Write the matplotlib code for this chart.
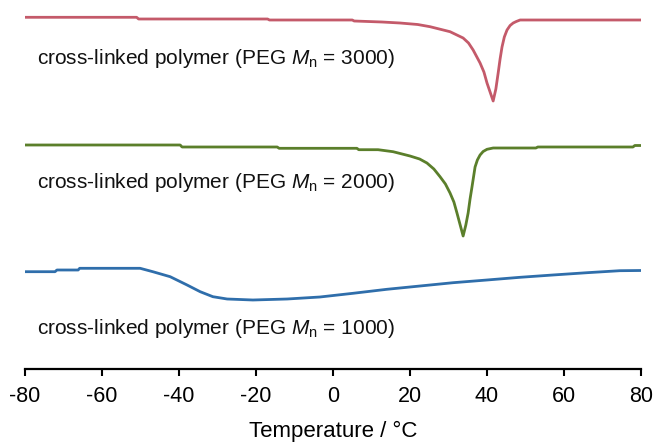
import matplotlib
matplotlib.use('Agg')
import matplotlib.pyplot as plt

plt.rcParams['font.family'] = ['Liberation Sans', 'DejaVu Sans']
plt.rcParams['mathtext.fontset'] = 'custom'
plt.rcParams['mathtext.rm'] = 'Liberation Sans'
plt.rcParams['mathtext.it'] = 'Liberation Sans:italic'
plt.rcParams['axes.unicode_minus'] = False

# DSC traces, stacked with offsets (heat flow in a.u.)
t_3000 = [-80, -51, -50.5, -17, -16.5, 5, 5.5, 12.7, 17.4, 22, 25.2, 30.4, 33.8, 35.2, 36.4,
          38.2, 39.2, 40.0, 41.6, 42.3, 42.9, 43.4, 43.9, 44.5, 45.2, 46.0, 46.8, 47.6, 48.6, 80]
h_3000 = [35.17, 35.17, 35.0, 35.0, 34.9, 34.9, 34.8, 34.7, 34.6, 34.45, 34.23, 33.73, 33.1, 32.6, 31.9,
          30.6, 29.7, 28.6, 26.8, 28.0, 29.6, 31.0, 32.2, 33.2, 33.9, 34.35, 34.6, 34.75, 34.9, 34.9]

t_2000 = [-80, -39.7, -39.2, -14.5, -14.0, 6.2, 6.7, 11.7, 15.6, 20.0, 22.5, 24.4, 26.2, 27.8, 29.2, 30.4,
          31.4, 32.2, 33.8, 34.5, 35.1, 35.6, 36.1, 36.9, 37.5, 38.2, 39.0, 40.0, 41.6, 52.7, 53.2,
          77.9, 78.4, 80]
h_2000 = [22.4, 22.4, 22.2, 22.2, 22.07, 22.07, 21.93, 21.93, 21.73, 21.3, 21.0, 20.6, 20.0, 19.23, 18.5, 17.6,
          16.7, 15.6, 13.3, 14.4, 15.6, 17.0, 18.2, 20.2, 20.9, 21.4, 21.75, 21.97, 22.1, 22.1, 22.2,
          22.2, 22.35, 22.35]

t_1000 = [-80, -72.2, -71.7, -66.2, -65.8, -50.1, -46.8, -42.3, -37.9, -34.5, -31.2, -27.5,
          -20.8, -11.9, -3.4, 5.2, 14.0, 22.6, 31.2, 40.0, 48.6, 57.1, 66.0, 74.5, 80]
h_1000 = [9.73, 9.73, 9.9, 9.9, 10.07, 10.07, 9.73, 9.23, 8.4, 7.73, 7.23, 7.0,
          6.9, 7.0, 7.2, 7.57, 7.97, 8.3, 8.63, 8.9, 9.17, 9.4, 9.63, 9.83, 9.85]

labels = [r'cross-linked polymer (PEG $M_\mathrm{n}$ = 3000)',
          r'cross-linked polymer (PEG $M_\mathrm{n}$ = 2000)',
          r'cross-linked polymer (PEG $M_\mathrm{n}$ = 1000)']
label_y = [31.1, 18.7, 4.1]
colors = ['#c45a6a', '#5b7f2b', '#2f6eab']

fig = plt.figure(figsize=(6.57, 4.43), dpi=100)
ax = fig.add_axes([25 / 657, 74 / 443, 616 / 657, 369 / 443])

for t, h, c in zip([t_3000, t_2000, t_1000], [h_3000, h_2000, h_1000], colors):
    ax.plot(t, h, color=c, lw=2.0, solid_joinstyle='round')

for lab, y in zip(labels, label_y):
    ax.text(-76.9, y, lab, fontsize=15, va='center', ha='left', color='#111111')

ax.set_xlim(-80, 80)
ax.set_ylim(0, 36.9)
ax.set_xticks(range(-80, 81, 20))
ax.set_yticks([])
for s in ['top', 'left', 'right']:
    ax.spines[s].set_visible(False)
ax.spines['bottom'].set_linewidth(1.6)
ax.tick_params(axis='x', direction='out', length=5, width=1.5, labelsize=15.5, pad=7)
ax.set_xlabel('Temperature / °C', fontsize=16, labelpad=10)
ax.patch.set_visible(False)

fig.savefig('out.png', dpi=100)
